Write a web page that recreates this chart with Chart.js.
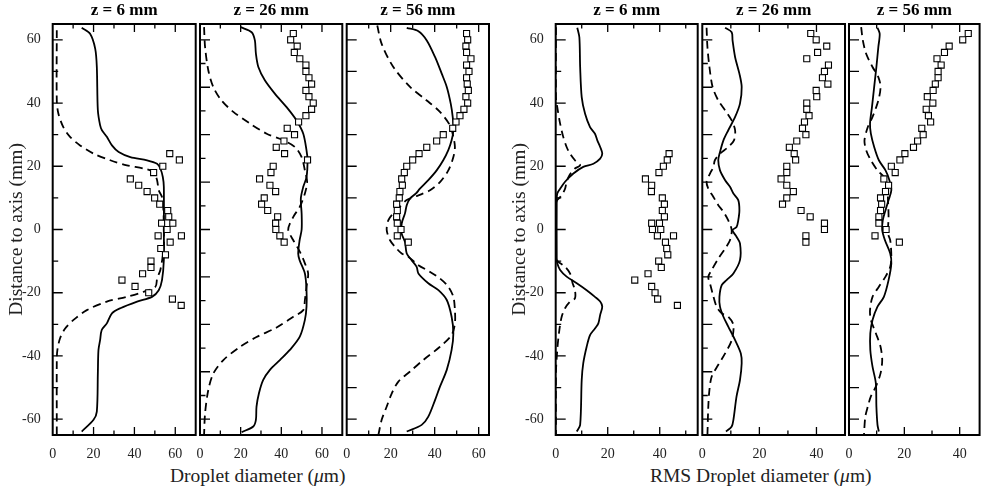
<!DOCTYPE html>
<html>
<head>
<meta charset="utf-8">
<script src="https://cdn.jsdelivr.net/npm/chart.js@4.4.0/dist/chart.umd.min.js"></script>
<style>
  body { margin: 0; background: #fff; width: 985px; height: 493px; overflow: hidden; position: relative; }
  canvas { position: absolute; left: 0; top: 0; }
  .xl { position: absolute; top: 464px; font-family: "Liberation Serif", serif; font-size: 19.5px; line-height: 24px; color: #222; white-space: nowrap; }
</style>
</head>
<body>
<div class="xl" style="left:170px">Droplet diameter (<i>μ</i>m)</div>
<div class="xl" style="left:650px">RMS Droplet diameter (<i>μ</i>m)</div>
<script>
// tick values
const xLabels70 = [0, 20, 40, 60];
const xLabels50 = [0, 20, 40];
const yLabels = [-60, -40, -20, 0, 20, 40, 60];
const yMinor10 = [-50, -30, -10, 10, 30, 50];
const yMajor15 = [-60, -45, -30, -15, 0, 15, 30, 45, 60];
const yMinor15 = [-52.5, -37.5, -22.5, -7.5, 7.5, 22.5, 37.5, 52.5];
const yEvery10 = [-60, -50, -40, -30, -20, -10, 0, 10, 20, 30, 40, 50, 60];

// mean diameter, z = 6 mm  ([diameter, distance])
const solid1 = [[14.2,63.8],[18.3,61.9],[20.8,57.2],[21.6,51.4],[22.1,37.7],[23.2,33],[24.1,31.4],[26.5,29.3],[29,26.6],[32.3,24.5],[38,22.9],[46.2,21.9],[51.1,20.8],[52.7,19.3],[53.9,16.6],[54.4,13.5],[54.4,0],[54.4,-9.7],[53.5,-16],[51.9,-19.2],[48.6,-21.3],[41.3,-22.8],[33.1,-24.9],[29,-26.5],[26.5,-29.7],[24,-31.8],[23.2,-35],[22.4,-38.1],[22.1,-45.5],[21.6,-57.6],[20,-60.2],[14.2,-63.9]];
const dashed1 = [[2,63],[2,40.8],[2.8,36.6],[5.2,32.4],[8.5,29.3],[13.4,26.6],[20,24],[28.2,21.9],[36.3,20.3],[44.5,19.3],[49.4,18.2],[51.1,15.6],[51.9,12.4],[53.5,10.3],[54.2,6],[54.4,0],[54.4,-5.5],[52.7,-12.8],[51.1,-15.5],[50.3,-18.1],[44.5,-19.7],[36.3,-21.3],[26.5,-22.8],[16.7,-25.5],[10.2,-28.6],[6.1,-31.3],[3.6,-34.4],[2.3,-38.1],[2,-41.3],[2,-65]];
const squares1 = [[57.3,24],[62,22],[53.9,20],[49.4,18],[38,16],[42.1,14],[46.2,12],[49.9,10],[52.4,8],[56.3,6],[56.8,4],[53.3,2],[58.8,2],[56,0],[51.6,-2],[63,-2],[57.5,-4],[52.9,-6],[55.2,-8],[48.1,-10],[48.1,-12],[44,-14],[33.9,-16],[40.3,-18],[47,-20],[58.6,-22],[62.9,-24]];

// mean diameter, z = 26 mm
const solid2 = [[20,64],[25.4,62.4],[27,59.8],[27.5,55.6],[28.7,51.4],[31.9,47.2],[36.9,42.9],[42.6,38.7],[47.5,34.5],[50.8,30.3],[52.4,25],[52.9,21.9],[52.4,16.6],[50.8,13.5],[49.6,9.8],[50,5],[50,0],[49,-3.4],[48.3,-7.6],[49,-9.7],[51.6,-13.9],[52.4,-19.2],[52.4,-24.4],[51.6,-28.6],[49.1,-33.9],[44.2,-38.1],[39.3,-41.3],[34.4,-44.4],[31.1,-47.6],[29,-51.8],[27.8,-56],[27.5,-60.2],[26.2,-62.3],[20.5,-64.1]];
const dashed2 = [[2,64],[2.5,57.7],[4.1,50.3],[6.6,45],[10.6,40.8],[16.4,37.2],[24.6,33.5],[32.8,30.3],[41,28.2],[46.7,26.1],[50,22.9],[51.6,18.7],[52.7,15],[51.6,11.4],[49.1,7.2],[45.9,4],[43.4,0],[45.9,-3.4],[49.1,-7],[51.6,-10.7],[53.2,-13.9],[52.4,-18.1],[51.6,-22.3],[50.8,-25.5],[45.9,-27.6],[37.7,-31],[27.8,-34],[19.7,-37.1],[11.5,-41.3],[6.6,-45.5],[4.1,-50.7],[2.5,-58.1],[2,-65]];
const squares2 = [[45.9,62],[44.6,60],[47.8,58],[46.4,56],[49.1,54],[52.1,52],[52.1,50],[53.6,48],[54.9,46],[52.1,44],[53.6,42],[55.7,40],[54.9,38],[52.1,36],[48.5,34],[42.9,32],[46.5,30],[41.3,28],[37.5,26],[41.6,24],[52.9,22],[36,20],[34.9,18],[29.3,16],[34.4,14],[37.2,12],[31.6,10],[30.3,8],[33.3,6],[38.2,4],[37.2,2],[37.3,0],[39.3,-2],[41.4,-4]];

// mean diameter, z = 56 mm
const solid3 = [[27.3,63.8],[32.6,62.7],[36.4,59.8],[40.2,54.5],[43.2,49.3],[45.5,45.1],[47.3,39.8],[48.2,35.6],[48.5,31.4],[47.7,28.2],[46.2,25.1],[43.9,21.9],[40.9,18.7],[37.1,15.6],[33.3,12.9],[31.5,11.4],[28.8,9.8],[27.3,7.7],[26.5,5.1],[25,1.9],[25,-1.3],[26.5,-4],[27.3,-7.6],[29.5,-9.7],[31.8,-11.8],[32.6,-13.9],[37.1,-17],[41.7,-19.2],[45.5,-22.3],[47.7,-27.6],[48.5,-32.8],[47.7,-38.1],[45.5,-44.4],[42.4,-49.7],[40.2,-53.9],[37.1,-59.2],[34.1,-61.8],[27.3,-63.9]];
const dashed3 = [[13.9,64.5],[15.9,58.7],[21.2,51.4],[28.8,45.1],[36.4,40.8],[42.4,37.2],[47,32.9],[48.5,29.3],[49.2,26.1],[48.5,22.9],[46.2,18.7],[42.4,15],[37.9,12.4],[32.6,10.8],[27.3,9.3],[24.2,7.2],[21.2,5.1],[18.9,2.9],[18.2,-0.2],[19.7,-3.4],[22,-5.5],[25,-7.6],[28,-8.6],[32.6,-11.3],[37.9,-13.4],[42.4,-15.5],[46.2,-18.1],[48.5,-21.3],[49.2,-25.5],[49.2,-29.7],[47.7,-33.4],[42.4,-37.1],[34.8,-41.3],[28.8,-44.9],[23.5,-48.1],[20.5,-51.8],[18.2,-56],[15.9,-60.2],[14.4,-65]];
const squares3 = [[54.5,62],[55,60],[54.2,58],[54.5,56],[56.5,54],[54.5,52],[55.6,50],[54.5,48],[54.8,46],[55.3,44],[54.2,42],[55,40],[53.3,38],[51.5,36],[49.7,34],[48.2,32],[43.9,30],[40.9,28],[36.4,26],[32.9,24],[30,22],[27.3,20],[26.2,18],[25,16],[25.3,14],[24.2,12],[23.9,10],[22.7,8],[23,6],[22.7,4],[23,2],[24.7,0],[23,-2],[28,-4]];

// RMS diameter, z = 6 mm
const solid4 = [[8.3,63.8],[9.1,60.8],[9.4,51.4],[10,41.9],[11.3,36.6],[13.2,32.4],[15.1,30.3],[16,28.2],[17.1,26.1],[17.9,24],[17.1,22.4],[14.5,20.8],[10.6,19.8],[6.8,17.7],[3.6,15.1],[1.7,12.9],[0.6,11.4],[0.4,9.3],[0.4,-9],[0.6,-10.7],[1.7,-12.8],[4.2,-14.9],[8.1,-17],[11.9,-19.2],[15.1,-21.3],[17.1,-22.8],[17.9,-24.4],[17.1,-27],[16.4,-29.7],[15.1,-31.3],[13.2,-33.4],[11.9,-37.1],[10.6,-42.3],[10,-47.6],[9.4,-61.8],[8.1,-63.9]];
const dashed4 = [[0.1,64],[0.1,41.9],[0.6,38.7],[1.7,33.5],[2.9,29.3],[4.2,26.1],[5.5,24],[7.4,21.9],[9.4,20.3],[7.4,19.3],[5.3,17.2],[4.2,15.1],[3.6,12.9],[2.3,10.8],[0.6,9.3],[0.1,8.2],[0.1,-9.2],[1,-10.2],[3.6,-11.8],[5.5,-13.9],[6.5,-17],[7.4,-19.2],[7.4,-21.8],[5.5,-22.8],[3.6,-24.9],[2.3,-27.6],[1.4,-31.8],[0.6,-38.1],[0.1,-45.5],[0.1,-65]];
const squares4 = [[43.6,24],[42.9,22],[41.4,20],[39.7,18],[34.5,16],[36.9,14],[36.8,12],[41,10],[41.8,8],[41,6],[41.8,4],[36.9,2],[39.9,2],[37.2,0],[40.4,0],[39.1,-2],[45.3,-2],[42.2,-4],[42.7,-6],[43.1,-8],[39.6,-10],[40.6,-12],[35.5,-14],[30.4,-16],[36.9,-18],[38.2,-20],[39.2,-22],[46.8,-24]];

// RMS diameter, z = 26 mm
const solid5 = [[8,63.8],[10.3,62.4],[10.6,59.8],[11.5,54.5],[13,49.3],[13.8,45.1],[13.2,39.8],[11.5,35.6],[9.1,31.4],[7.4,28.2],[6.2,24.5],[5.6,21.9],[6.2,18.7],[8,15.6],[9.7,13.5],[10.9,11.4],[12.6,9.3],[13,6.1],[12.6,2.9],[12,0.8],[10.6,-0.2],[12,-2.3],[13.2,-4.4],[13.2,-9.7],[10.9,-13.9],[8.5,-16],[6.8,-17.6],[6,-21.3],[6.2,-24.4],[7.4,-27.6],[9.1,-30.7],[11.5,-35],[13.5,-39.2],[13.8,-42.3],[13.2,-47.6],[12,-52.8],[10.9,-60.2],[10.3,-62.3],[8.3,-63.9]];
const dashed5 = [[1.5,63.8],[1.8,57.7],[2.5,51.4],[3.6,45.1],[5.6,40.8],[8,37.7],[10.3,34.5],[11.5,31.4],[11.1,28.2],[9.1,26.1],[6.2,24],[4.4,21.9],[3.9,19.8],[2.7,17.7],[1.5,15.1],[2.1,12.9],[3.9,10.3],[5.6,7.7],[7.4,5.6],[9.1,2.9],[10.3,-0.2],[9.7,-3.4],[8,-6],[5.6,-9.2],[3.3,-12.8],[2.1,-15],[2.7,-17.1],[3.6,-20.2],[5,-24.4],[6.8,-26.5],[9.1,-27.6],[10.9,-30.2],[10.3,-35],[8,-39.2],[5.6,-42.8],[3.3,-46.5],[2.5,-50.7],[2.1,-56],[1.8,-65]];
const squares5 = [[38,62],[39.9,60],[43.6,58],[40.4,56],[36.6,54],[44.2,52],[42.8,50],[42.1,48],[44,46],[39.9,44],[40.1,42],[36.6,40],[36.6,38],[37.4,36],[35.8,34],[35.1,32],[36.3,30],[33.1,28],[30.5,26],[32.2,24],[32.7,22],[29.6,20],[29.6,18],[27.6,16],[29.6,14],[31.9,12],[29.6,10],[28.1,8],[34.6,6],[37.8,4],[42.8,2],[42.8,0],[36.3,-2],[36.3,-4]];

// RMS diameter, z = 56 mm
const solid6 = [[10.3,63.8],[11.1,61.9],[10.6,57.7],[9.9,51.4],[9.1,45.1],[8.3,38.7],[7.6,33.5],[7.9,30.3],[9.1,26.1],[10.8,21.9],[13.2,18.7],[14.6,15.6],[15.3,12.4],[14.3,9.3],[13.2,6.1],[12.2,2.9],[12,-0.2],[13,-3.4],[14.9,-7.6],[15.3,-10.7],[14.3,-16],[12.6,-21.3],[10.3,-24.4],[8.5,-28.6],[7.7,-32.8],[7.7,-38.1],[8.5,-43.4],[9.7,-48.6],[9.9,-56],[10.3,-61.8],[10.8,-63.9]];
const dashed6 = [[4.4,64],[5,59.8],[6.2,55.6],[8.5,51.4],[10.6,48.2],[11.4,45.1],[10.6,40.8],[8.5,35.6],[6.8,32.4],[5.6,28.2],[6.2,25.1],[7.9,21.9],[10.3,18.7],[12.6,16.6],[13.8,13.5],[14.1,9.3],[14.3,4],[14.1,-1.3],[14.9,-3.4],[15.3,-8.6],[14.9,-11.8],[13.2,-14.9],[10.8,-18.1],[8.5,-21.3],[7.6,-25.5],[7.9,-28.6],[9.7,-32.8],[11.4,-37.1],[12,-41.3],[11.4,-45.5],[9.7,-49.7],[7.9,-52.8],[6.8,-56],[5.9,-59.2],[5.4,-65]];
const squares6 = [[43.1,62],[41.1,60],[36.2,58],[34.5,56],[31.8,54],[33.3,52],[32.2,50],[32.2,48],[31.2,46],[30.4,44],[28.3,42],[30.3,40],[27.9,38],[28.7,36],[29.5,34],[26.3,32],[26.8,30],[24.8,28],[23.3,26],[20.2,24],[18.4,22],[15.3,20],[16.7,18],[12.6,16],[14.3,14],[13.2,12],[11.4,10],[11.8,8],[11.4,6],[10.8,4],[10.8,2],[13.4,0],[9.4,-2],[18.2,-4]];

const serif = '"Liberation Serif", "Times New Roman", serif';

// frame with inward ticks, drawn from the scales
const frameTicks = {
    id: 'frameTicks',
    afterDatasetsDraw(chart, args, opts) {
        const { ctx, chartArea: a, scales: { x, y } } = chart;
        ctx.save();
        ctx.strokeStyle = '#000';
        ctx.lineWidth = 1.3;
        ctx.beginPath();
        const xt = (vals, len) => vals.forEach(v => {
            const px = x.getPixelForValue(v);
            ctx.moveTo(px, a.bottom); ctx.lineTo(px, a.bottom - len);
            ctx.moveTo(px, a.top); ctx.lineTo(px, a.top + len);
        });
        const yt = (vals, len) => vals.forEach(v => {
            const py = y.getPixelForValue(v);
            ctx.moveTo(a.left, py); ctx.lineTo(a.left + len, py);
        });
        xt(opts.xMajor, 8);
        xt(opts.xMinor, 4.5);
        yt(opts.yMajor, 10);
        yt(opts.yMinor, 5.5);
        ctx.stroke();
        ctx.lineWidth = 2;
        ctx.strokeRect(a.left, a.top, a.right - a.left, a.bottom - a.top);
        ctx.restore();
    }
};

const panels = [
    { left: 52.7, right: 195.7, xMax: 70, xLabels: xLabels70, xMajor: [20, 40, 60], xMinor: [10, 30, 50], yMajor: yLabels, yMinor: yMinor10, yTitle: 'Distance to axis (mm)', title: 'z = 6 mm', solid: solid1, dashed: dashed1, squares: squares1 },
    { left: 200, right: 342.3, xMax: 70, xLabels: xLabels70, xMajor: [20, 40, 60], xMinor: [10, 30, 50], yMajor: yMajor15, yMinor: yMinor15, title: 'z = 26 mm', solid: solid2, dashed: dashed2, squares: squares2 },
    { left: 346.7, right: 489, xMax: 64.7, xLabels: xLabels70, xMajor: [20, 40, 60], xMinor: [10, 30, 50], yMajor: yEvery10, yMinor: [], title: 'z = 56 mm', solid: solid3, dashed: dashed3, squares: squares3 },
    { left: 555.7, right: 697.7, xMax: 54.6, xLabels: xLabels50, xMajor: [20, 40], xMinor: [10, 30, 50], yMajor: yLabels, yMinor: yMinor10, yTitle: 'Distance to axis (mm)', title: 'z = 6 mm', solid: solid4, dashed: dashed4, squares: squares4 },
    { left: 702.3, right: 845, xMax: 50, xLabels: xLabels50, xMajor: [20, 40], xMinor: [10, 30], yMajor: yMajor15, yMinor: yMinor15, title: 'z = 26 mm', solid: solid5, dashed: dashed5, squares: squares5 },
    { left: 849, right: 984, xMax: 47.2, xLabels: xLabels50, xMajor: [20, 40], xMinor: [10, 30], yMajor: yEvery10, yMinor: [], title: 'z = 56 mm', solid: solid6, dashed: dashed6, squares: squares6 }
];

const pts = arr => arr.map(([d, r]) => ({ x: d, y: r }));

panels.forEach(p => {
    const cv = document.createElement('canvas');
    cv.width = 985;
    cv.height = 493;
    document.body.appendChild(cv);
    const hasY = !!p.yTitle;
    const yw = hasY ? 52.7 : 0;

    new Chart(cv.getContext('2d'), {
        type: 'scatter',
        data: {
            datasets: [{
                data: pts(p.squares),
                pointStyle: 'rect',
                pointRadius: 4.3,
                pointBorderWidth: 1.1,
                pointBorderColor: '#000',
                pointBackgroundColor: '#fff',
                showLine: false
            }, {
                data: pts(p.solid),
                showLine: true,
                borderColor: '#000',
                borderWidth: 1.8,
                pointRadius: 0,
                tension: 0.3
            }, {
                data: pts(p.dashed),
                showLine: true,
                borderColor: '#000',
                borderWidth: 1.8,
                borderDash: [8, 5],
                pointRadius: 0,
                tension: 0.3
            }]
        },
        options: {
            responsive: false,
            animation: false,
            events: [],
            layout: { padding: { left: p.left - yw, right: 985 - p.right, top: 0, bottom: 0 } },
            plugins: {
                legend: { display: false },
                tooltip: { enabled: false },
                title: {
                    display: true,
                    text: p.title,
                    fullSize: false,
                    color: '#000',
                    font: { family: serif, size: 17, weight: 'bold' },
                    padding: { top: 0, bottom: 3.6 }
                },
                frameTicks: { xMajor: p.xMajor, xMinor: p.xMinor, yMajor: p.yMajor, yMinor: p.yMinor }
            },
            scales: {
                x: {
                    type: 'linear',
                    min: 0,
                    max: p.xMax,
                    afterBuildTicks: s => { s.ticks = p.xLabels.map(v => ({ value: v })); },
                    afterFit: s => { s.height = 58; },
                    grid: { display: false },
                    border: { display: false },
                    ticks: { color: '#222', padding: 3, autoSkip: false, maxRotation: 0, font: { family: serif, size: 14 } }
                },
                y: {
                    type: 'linear',
                    min: -65,
                    max: 65,
                    display: hasY,
                    afterBuildTicks: s => { s.ticks = yLabels.map(v => ({ value: v })); },
                    afterFit: s => { s.width = yw; },
                    grid: { display: false },
                    border: { display: false },
                    ticks: { color: '#222', padding: 4, autoSkip: false, font: { family: serif, size: 14 } },
                    title: {
                        display: hasY,
                        text: p.yTitle || '',
                        color: '#222',
                        font: { family: serif, size: 19.5 },
                        padding: { top: 5, bottom: 0 }
                    }
                }
            }
        },
        plugins: [frameTicks]
    });
});
</script>
</body>
</html>
